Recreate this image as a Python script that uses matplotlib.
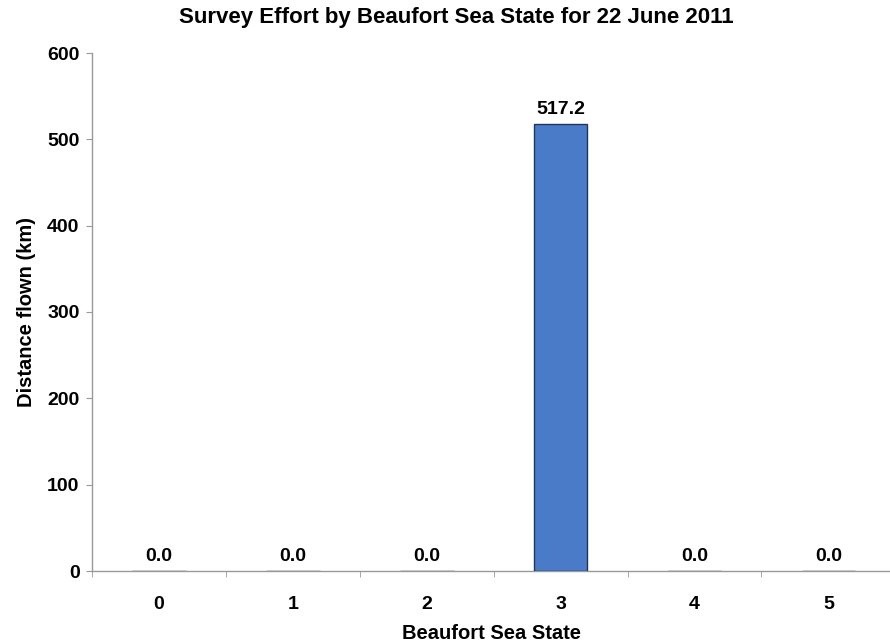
import matplotlib.pyplot as plt

# data
states = ['0', '1', '2', '3', '4', '5']
distance = [0.0, 0.0, 0.0, 517.2, 0.0, 0.0]

plt.rcParams['font.family'] = ['Liberation Sans', 'DejaVu Sans']
plt.rcParams['font.weight'] = 'bold'

fig = plt.figure(figsize=(8.9, 6.44), dpi=100)
ax = fig.add_axes([92 / 890, 73 / 644, 798 / 890, 518 / 644])

x = list(range(len(states)))
bars = ax.bar(x, distance, width=0.4, color='#4a7bc8', edgecolor='#1f3560', linewidth=1.0, zorder=3)

# value labels above bars
for xi, v in zip(x, distance):
    ax.text(xi, v + 7, f'{v:.1f}', ha='center', va='bottom', fontsize=14, fontweight='bold')

ax.set_xlim(-0.5, 5.46)
ax.set_ylim(0, 600)
ax.set_yticks(range(0, 601, 100))
ax.set_xticks(x)
ax.set_xticklabels(states)
ax.set_xticks([i + 0.5 for i in range(-1, 5)], minor=True)

ax.tick_params(axis='x', which='major', length=0, pad=18, labelsize=14)
ax.tick_params(axis='x', which='minor', length=4, color='#999999', direction='out')
ax.tick_params(axis='y', length=4, color='#999999', direction='out', labelsize=14, pad=5)

for side in ['top', 'right']:
    ax.spines[side].set_visible(False)
for side in ['left', 'bottom']:
    ax.spines[side].set_color('#999999')
    ax.spines[side].set_linewidth(1.0)

# title is centred on the chart area, not the plot area
fig.text(456 / 890, 1 - 18 / 644, 'Survey Effort by Beaufort Sea State for 22 June 2011',
         ha='center', va='center', fontsize=16, fontweight='bold')
ax.set_xlabel('Beaufort Sea State', fontsize=14.5, fontweight='bold', labelpad=8)
ax.set_ylabel('Distance flown (km)', fontsize=14.5, fontweight='bold', labelpad=8)

fig.savefig('out.png', dpi=100)
